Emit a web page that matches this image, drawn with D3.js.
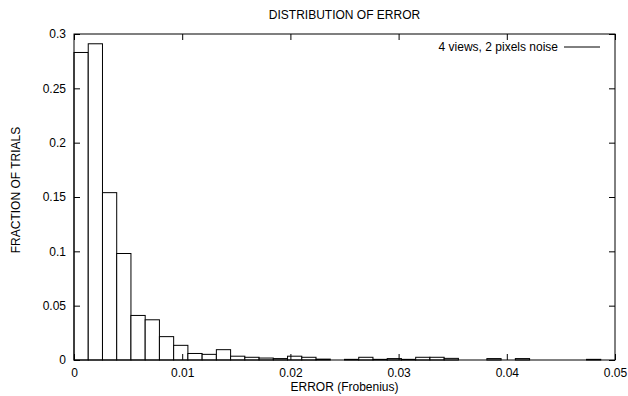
<!DOCTYPE html>
<html>
<head>
<meta charset="utf-8">
<script src="https://cdn.jsdelivr.net/npm/d3@7"></script>
<style>
  body { margin: 0; background: #fff; }
  text { font-family: "Liberation Sans", Arial, sans-serif; font-size: 12px; fill: #000; }
</style>
</head>
<body>
<div id="chart"></div>
<script>
// histogram of error, 38 bins over [0, 0.05]
let binWidth = 0.05 / 38
let fractions = [
  0.283, 0.291, 0.154, 0.098, 0.041, 0.037, 0.0215, 0.0135, 0.006, 0.0052,
  0.0095, 0.0035, 0.0025, 0.0018, 0.0013, 0.0035, 0.0025, 0.0008, 0, 0.0006,
  0.0025, 0.0006, 0.0013, 0.0006, 0.0025, 0.0025, 0.0015, 0, 0, 0.0013,
  0, 0.0013, 0, 0, 0, 0, 0.0006, 0
]
let xTicks = [0, 0.01, 0.02, 0.03, 0.04, 0.05]
let yTicks = [0, 0.05, 0.1, 0.15, 0.2, 0.25, 0.3]
let title = 'DISTRIBUTION OF ERROR'
let xLabel = 'ERROR (Frobenius)'
let yLabel = 'FRACTION OF TRIALS'
let legendLabel = '4 views, 2 pixels noise'

let w = 628, h = 396
let padding = {top: 34, right: 13, bottom: 36, left: 74}
let width = w - padding.left - padding.right
let height = h - padding.top - padding.bottom

let svg = d3.select('#chart').append('svg')
  .attr('width', w)
  .attr('height', h)

let g = svg.append('g')
  .attr('transform', 'translate(' + padding.left + ',' + padding.top + ')')

let xScale = d3.scaleLinear().domain([0, 0.05]).range([0, width])
let yScale = d3.scaleLinear().domain([0, 0.3]).range([height, 0])
let fmt = d => String(+d.toFixed(4))

let bins = fractions.map((v, i) => ({x0: i * binWidth, x1: (i + 1) * binWidth, v: v}))

// boxes
g.selectAll('rect.bar')
  .data(bins)
  .enter()
  .append('rect')
  .attr('class', 'bar')
  .attr('x', d => xScale(d.x0))
  .attr('y', d => yScale(d.v))
  .attr('width', d => xScale(d.x1) - xScale(d.x0))
  .attr('height', d => height - yScale(d.v))
  .style('fill', '#fff')
  .style('stroke', '#000')
  .style('stroke-width', 1)

// axes with inward ticks, mirrored on top and right
function styleAxis(sel) {
  sel.select('.domain').remove()
  sel.selectAll('line').style('stroke', '#000')
  sel.selectAll('text').style('font-size', '12px').style('font-family', '"Liberation Sans", Arial, sans-serif')
}

g.append('g')
  .attr('transform', 'translate(0,' + height + ')')
  .call(d3.axisBottom(xScale).tickValues(xTicks).tickFormat(fmt).tickSize(-6).tickPadding(8))
  .call(styleAxis)
g.append('g')
  .call(d3.axisTop(xScale).tickValues(xTicks).tickFormat('').tickSize(-6))
  .call(styleAxis)
g.append('g')
  .call(d3.axisLeft(yScale).tickValues(yTicks).tickFormat(fmt).tickSize(-6).tickPadding(8))
  .call(styleAxis)
g.append('g')
  .attr('transform', 'translate(' + width + ',0)')
  .call(d3.axisRight(yScale).tickValues(yTicks).tickFormat('').tickSize(-6))
  .call(styleAxis)

// border
g.append('rect')
  .attr('x', 0).attr('y', 0)
  .attr('width', width).attr('height', height)
  .style('fill', 'none')
  .style('stroke', '#000')
  .style('stroke-width', 1)

// titles
svg.append('text')
  .text(title)
  .attr('x', padding.left + width / 2)
  .attr('y', 19)
  .attr('text-anchor', 'middle')

svg.append('text')
  .text(xLabel)
  .attr('x', padding.left + width / 2)
  .attr('y', 391)
  .attr('text-anchor', 'middle')

svg.append('text')
  .text(yLabel)
  .attr('text-anchor', 'middle')
  .attr('transform', 'translate(20,190) rotate(-90)')

// legend
svg.append('text')
  .text(legendLabel)
  .attr('x', 558)
  .attr('y', 51)
  .attr('text-anchor', 'end')
svg.append('line')
  .attr('x1', 564).attr('x2', 600)
  .attr('y1', 47).attr('y2', 47)
  .style('stroke', '#000')
</script>
</body>
</html>
